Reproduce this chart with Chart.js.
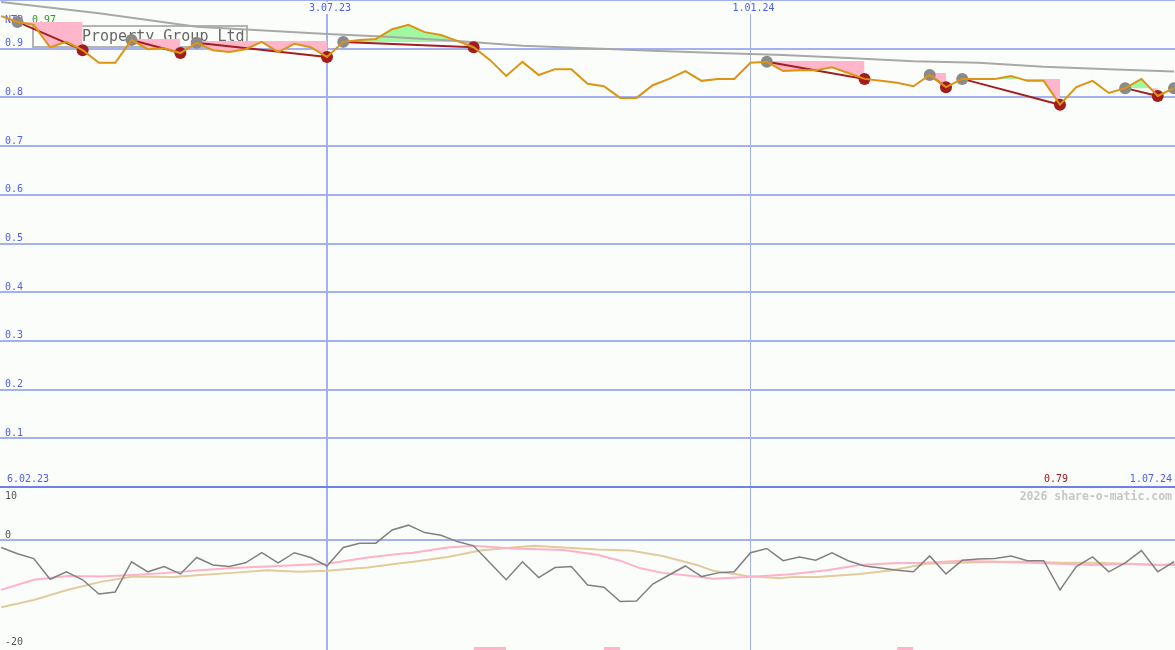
<!DOCTYPE html>
<html>
<head>
<meta charset="utf-8">
<script src="https://cdn.jsdelivr.net/npm/chart.js@4"></script>
<style>
  html, body { margin: 0; padding: 0; background: #fbfdfb; }
  canvas { display: block; background: #fbfdfb; }
</style>
</head>
<body>
<canvas id="canvas" width="1175" height="650"></canvas>
<script>
// weekly closes, week 0 = 6.02.23
var closes = [
    0.967, 0.955, 0.949, 0.903, 0.914, 0.897, 0.871, 0.871, 0.918, 0.899,
    0.901, 0.891, 0.912, 0.897, 0.893, 0.899, 0.914, 0.893, 0.910, 0.903,
    0.883, 0.914, 0.918, 0.920, 0.940, 0.949, 0.934, 0.928, 0.916, 0.903,
    0.877, 0.844, 0.873, 0.846, 0.858, 0.858, 0.828, 0.823, 0.799, 0.799,
    0.825, 0.838, 0.854, 0.834, 0.838, 0.838, 0.871, 0.873, 0.854, 0.856,
    0.856, 0.862, 0.850, 0.838, 0.834, 0.830, 0.823, 0.846, 0.821, 0.838,
    0.838, 0.838, 0.844, 0.834, 0.834, 0.785, 0.821, 0.834, 0.809, 0.819,
    0.838, 0.803, 0.819
];
// long trend line
var trendIdx = [0, 6, 12, 20, 24, 28, 32, 36, 40, 44, 48, 52, 56, 60, 64, 68, 72];
var trendVal = [0.996, 0.973, 0.945, 0.930, 0.924, 0.916, 0.906, 0.901, 0.896, 0.891,
    0.887, 0.881, 0.874, 0.871, 0.863, 0.858, 0.853];
// peaks (grey) and troughs (red)
var highIdx = [1, 8, 12, 21, 47, 57, 59, 69, 72];
var lowIdx = [5, 11, 20, 29, 53, 58, 65, 71];
var legStart = [1, 8, 12, 21, 47, 57, 59, 69];
var legEnd = [5, 11, 20, 29, 53, 58, 65, 71];
var legLevel = [0.955, 0.920, 0.916, 0.914, 0.875, 0.850, 0.838, 0.819];
// lower panel
var osc = [
    -1.4, -2.6, -3.5, -7.4, -6.0, -7.5, -10.2, -9.8, -4.1, -6.0,
    -5.0, -6.4, -3.3, -4.7, -5.0, -4.3, -2.4, -4.3, -2.4, -3.3,
    -4.9, -1.4, -0.6, -0.6, 1.9, 2.8, 1.4, 0.9, -0.3, -1.1,
    -4.3, -7.5, -4.1, -7.1, -5.2, -5.0, -8.5, -8.9, -11.6, -11.5,
    -8.3, -6.6, -4.9, -6.9, -6.2, -6.0, -2.4, -1.6, -3.9, -3.2,
    -3.8, -2.4, -3.9, -4.9, -5.3, -5.7, -6.0, -3.0, -6.4, -3.8,
    -3.6, -3.5, -3.0, -3.9, -3.9, -9.4, -5.0, -3.2, -6.0, -4.3,
    -2.0, -6.0, -4.1
];
var pinkIdx = [0, 2, 4.1, 6.1, 8.1, 10.2, 12.2, 14.2, 16.3, 18.3, 20, 22.5, 24.5, 25.3,
    27.4, 29, 31.4, 34.5, 36.6, 38, 39.2, 40.6, 42.7, 43.7, 45.8, 47.8, 48.6, 50.7,
    52.7, 54.7, 56.8, 58.9, 60.9, 63, 65, 67, 69.1, 71.1, 72.1];
var pinkVal = [-9.4, -7.5, -6.8, -6.9, -6.6, -6.2, -5.7, -5.3, -5.0, -4.7, -4.5, -3.3, -2.6, -2.4,
    -1.4, -1.1, -1.6, -1.9, -2.8, -3.9, -5.3, -6.2, -6.9, -7.3, -7.0, -6.6, -6.4, -5.7,
    -4.7, -4.4, -4.3, -3.9, -4.1, -4.3, -4.5, -4.7, -4.5, -4.7, -4.7];
var tanIdx = [0, 2, 4.1, 6.1, 8.1, 10.6, 12.2, 14.2, 16.3, 18.3, 20, 22.5, 24.5, 25.3,
    27.4, 29.4, 31.4, 32.7, 34.5, 36.6, 38.6, 40.6, 42.7, 43.7, 45.8, 47.8, 48.6, 50.1,
    52.7, 54.7, 56.8, 58.9, 60.9, 63, 65, 67, 69.1, 71.1, 72.1];
var tanVal = [-12.7, -11.3, -9.4, -7.9, -6.9, -7.0, -6.6, -6.2, -5.7, -6.0, -5.8, -5.2, -4.4, -4.1,
    -3.2, -2.0, -1.4, -1.1, -1.4, -1.8, -2.0, -3.0, -4.7, -5.8, -6.8, -7.2, -7.0, -7.0,
    -6.4, -5.7, -4.5, -4.3, -4.1, -4.1, -4.3, -4.3, -4.5, -4.7, -4.5];
var barStart = [29, 37, 55];
var barEnd = [31, 38, 56];
var barVal = [-20.2, -20.2, -20.2];
// axes
var dateTicks = [20, 46];
var dateLabels = ["3.07.23", "1.01.24"];
var priceTicks = [0, 0.1, 0.2, 0.3, 0.4, 0.5, 0.6, 0.7, 0.8, 0.9, 1.0];
var oscTicks = [10, 0, -20];

var BG = "#fbfdfb";
var BLUE = "#4d5ef0";
var GRID = "#a4b1f1";
var GRID_DARK = "#7080e6";
var PINK_FILL = "#ffb6ca";
var GREEN_FILL = "#a0f8a0";
var MONO = '"DejaVu Sans Mono", "Liberation Mono", monospace';

function pts(xs, ys) {
    var out = [];
    for (var i = 0; i < xs.length; i++) out.push({ x: xs[i], y: ys[i] });
    return out;
}

var pricePts = closes.map(function (v, i) { return { x: i, y: v }; });
var legPts = [];
for (var k = 0; k < legStart.length; k++) {
    legPts.push({ x: legStart[k], y: closes[legStart[k]] });
    legPts.push({ x: legEnd[k], y: closes[legEnd[k]] });
    legPts.push({ x: legEnd[k] + 0.01, y: null });
}
var barPts = [];
for (var k = 0; k < barStart.length; k++) {
    barPts.push({ x: barStart[k], y: barVal[k] });
    barPts.push({ x: barEnd[k], y: barVal[k] });
    barPts.push({ x: barEnd[k] + 0.01, y: null });
}

var datasets = [
    { label: "close", data: pricePts, borderColor: "#dc9412", borderWidth: 2, order: 1 },
    { label: "trend", data: pts(trendIdx, trendVal), borderColor: "#a8a8a8", borderWidth: 2, order: 8 },
    { label: "legs", data: legPts, borderColor: "#a31f1f", borderWidth: 2, spanGaps: false, order: 6 },
    { label: "highs", data: highIdx.map(function (i) { return { x: i, y: closes[i] }; }), showLine: false,
      pointRadius: 6, pointBackgroundColor: "#8a8a8a", pointBorderWidth: 0, order: 3 },
    { label: "lows", data: lowIdx.map(function (i) { return { x: i, y: closes[i] }; }), showLine: false,
      pointRadius: 6, pointBackgroundColor: "#a11c1c", pointBorderWidth: 0, order: 3 },
    { label: "osc", data: osc.map(function (v, i) { return { x: i, y: v }; }), yAxisID: "y2",
      borderColor: "#808080", borderWidth: 1.5, order: 7 },
    { label: "pink", data: pts(pinkIdx, pinkVal), yAxisID: "y2", borderColor: "#ffb2c6", borderWidth: 2, order: 7 },
    { label: "tan", data: pts(tanIdx, tanVal), yAxisID: "y2", borderColor: "#e2cb9c", borderWidth: 2, order: 7 },
    { label: "bars", data: barPts, yAxisID: "y2", borderWidth: 0, backgroundColor: PINK_FILL,
      fill: "start", spanGaps: false, order: 20 }
];
for (var k = 0; k < legStart.length; k++) {
    var lv = [];
    for (var i = legStart[k]; i <= legEnd[k]; i++) lv.push({ x: i, y: legLevel[k] });
    datasets.push({ label: "level" + k, data: lv, borderWidth: 0, borderColor: "rgba(0,0,0,0)",
        fill: { target: 0, above: PINK_FILL, below: GREEN_FILL }, order: 20 });
}

var textPlugin = {
    id: "texts",
    beforeDatasetsDraw: function (chart) {
        var ctx = chart.ctx;
        ctx.save();
        // name box, sits under the fills
        ctx.fillStyle = BG;
        ctx.fillRect(33, 26, 214, 21);
        ctx.strokeStyle = "#b4b4b4";
        ctx.lineWidth = 2;
        ctx.strokeRect(33, 26, 214, 21);
        ctx.font = "15px " + MONO;
        ctx.fillStyle = "#666666";
        ctx.textBaseline = "middle";
        ctx.textAlign = "left";
        ctx.fillText("Property Group Ltd", 82, 37);
        ctx.font = "10px " + MONO;
        ctx.fillStyle = BLUE;
        ctx.fillText("NTP", 5, 20);
        ctx.fillStyle = "#22a022";
        ctx.fillText("0.97", 32, 20);
        ctx.restore();
    },
    afterDraw: function (chart) {
        var ctx = chart.ctx;
        var xs = chart.scales.x, ys = chart.scales.y, y2 = chart.scales.y2;
        ctx.save();
        ctx.font = "10px " + MONO;
        ctx.textBaseline = "middle";
        dateTicks.forEach(function (v, k) {
            var px = xs.getPixelForValue(v) + 3;
            var w = ctx.measureText(dateLabels[k]).width;
            ctx.fillStyle = BG;
            ctx.fillRect(px - w / 2 - 1, 2, w + 2, 12);
            ctx.fillStyle = BLUE;
            ctx.textAlign = "center";
            ctx.fillText(dateLabels[k], px, 8);
        });
        ctx.textAlign = "left";
        ctx.fillStyle = BLUE;
        priceTicks.forEach(function (v) {
            if (v <= 0 || v >= 1) return;
            ctx.fillText(v.toFixed(1), 5, ys.getPixelForValue(v) - 5);
        });
        ctx.fillStyle = "#555555";
        ctx.fillText("10", 5, y2.getPixelForValue(10) + 9);
        ctx.fillText("0", 5, y2.getPixelForValue(0) - 5);
        ctx.fillText("-20", 5, y2.getPixelForValue(-20) - 4);
        // range labels
        var rowY = ys.getPixelForValue(0) - 8;
        ctx.fillStyle = BLUE;
        ctx.fillText("6.02.23", 7, rowY);
        ctx.textAlign = "right";
        ctx.fillText("1.07.24", 1172, rowY);
        ctx.fillStyle = "#a01818";
        ctx.fillText("0.79", 1068, rowY);
        ctx.font = "bold 11.5px " + MONO;
        ctx.fillStyle = "#c6c6c6";
        ctx.fillText("2026 share-o-matic.com", 1172, ys.getPixelForValue(0) + 10);
        ctx.restore();
    }
};

window.onload = function () {
    var ctx = document.getElementById("canvas").getContext("2d");
    window.myChart = new Chart(ctx, {
        type: "line",
        data: { datasets: datasets },
        options: {
            responsive: false,
            animation: false,
            layout: { padding: 0, autoPadding: false },
            elements: { point: { radius: 0 }, line: { tension: 0 } },
            plugins: {
                legend: { display: false },
                tooltip: { enabled: false },
                filler: { propagate: false }
            },
            scales: {
                x: {
                    type: "linear",
                    min: -0.074,
                    max: 72.06,
                    afterBuildTicks: function (scale) {
                        scale.ticks = dateTicks.map(function (v) { return { value: v }; });
                    },
                    ticks: { display: false },
                    grid: {
                        color: GRID,
                        lineWidth: function (c) { return c.index === 0 ? 2 : 1; },
                        drawTicks: false
                    },
                    border: { display: false }
                },
                y: {
                    type: "linear",
                    position: "left",
                    stack: "panels",
                    stackWeight: 487,
                    weight: 2,
                    min: 0,
                    max: 1,
                    afterBuildTicks: function (scale) {
                        scale.ticks = priceTicks.map(function (v) { return { value: v }; });
                    },
                    ticks: { display: false },
                    grid: {
                        color: function (c) { return c.tick && c.tick.value === 0 ? GRID_DARK : GRID; },
                        lineWidth: 2,
                        drawTicks: false
                    },
                    border: { display: false }
                },
                y2: {
                    type: "linear",
                    position: "left",
                    stack: "panels",
                    stackWeight: 163,
                    weight: 1,
                    min: -20.75,
                    max: 10,
                    afterBuildTicks: function (scale) {
                        scale.ticks = oscTicks.map(function (v) { return { value: v }; });
                    },
                    ticks: { display: false },
                    grid: {
                        color: function (c) {
                            if (!c.tick) return GRID;
                            if (c.tick.value === 10) return GRID_DARK;
                            if (c.tick.value === 0) return GRID;
                            return "rgba(0,0,0,0)";
                        },
                        lineWidth: 2,
                        drawTicks: false
                    },
                    border: { display: false }
                }
            }
        },
        plugins: [textPlugin]
    });
};
</script>
</body>
</html>
